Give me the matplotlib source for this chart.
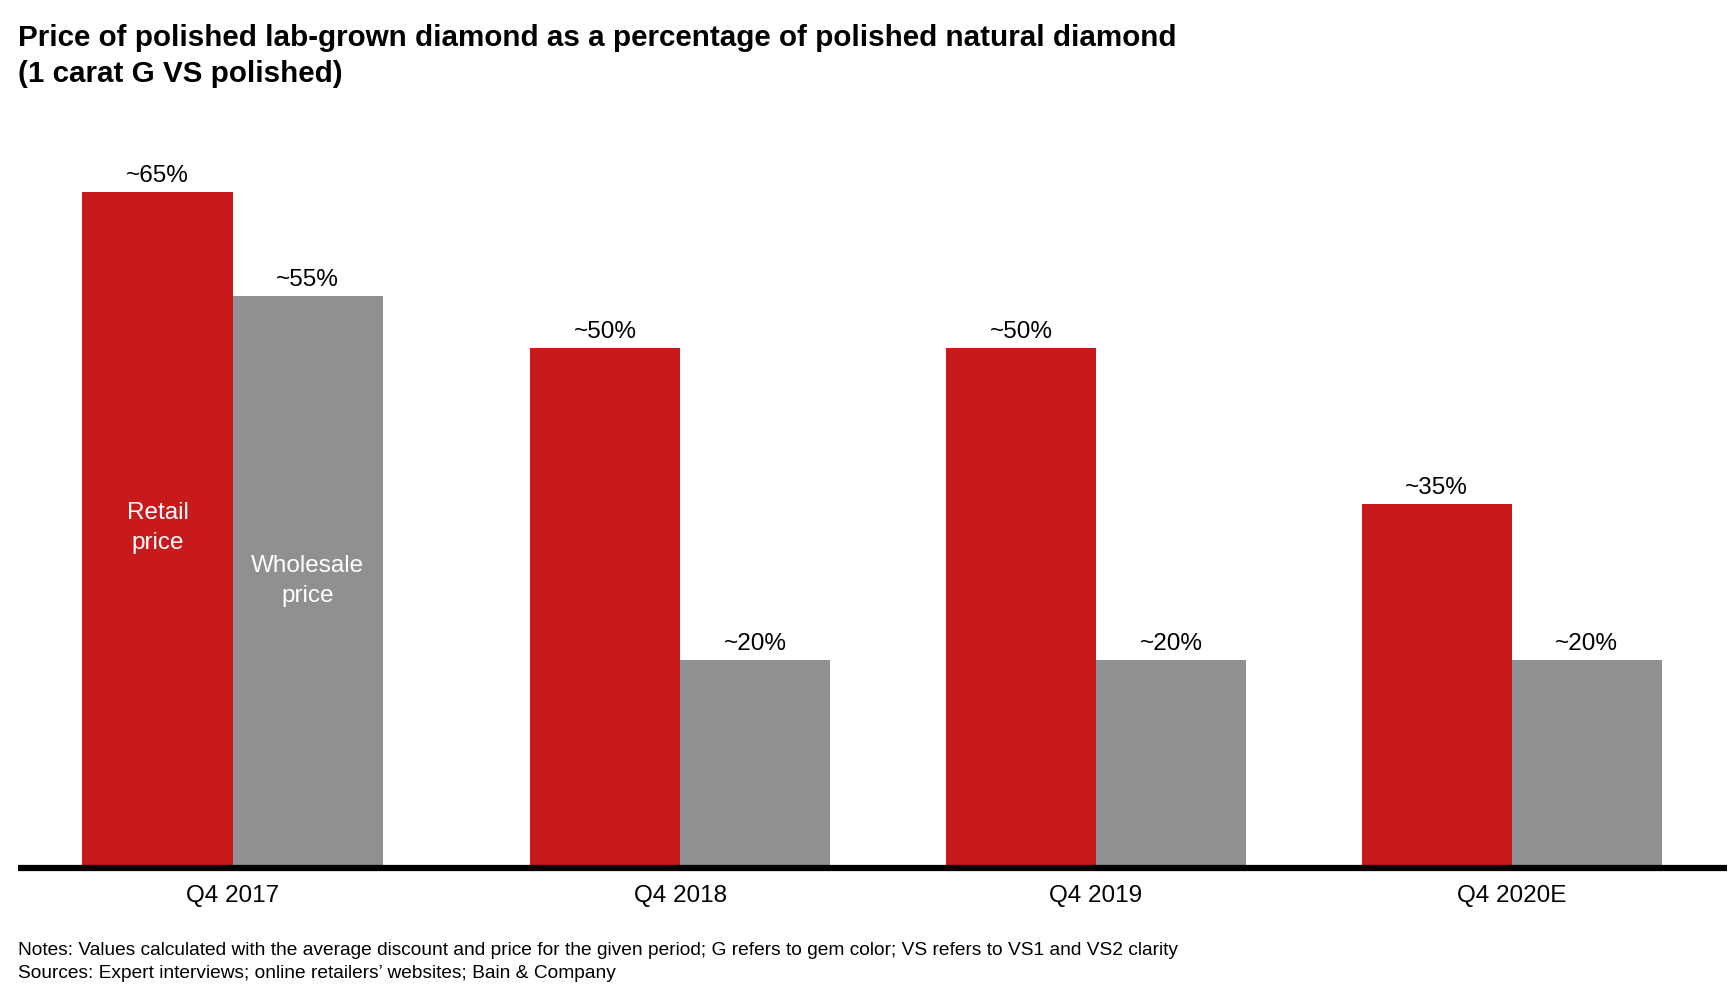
import matplotlib.pyplot as plt

plt.rcParams['font.family'] = ['Liberation Sans', 'DejaVu Sans']

categories = ["Q4 2017", "Q4 2018", "Q4 2019", "Q4 2020E"]
retail = [65, 50, 50, 35]
wholesale = [55, 20, 20, 20]
retail_labels = ["~65%", "~50%", "~50%", "~35%"]
wholesale_labels = ["~55%", "~20%", "~20%", "~20%"]

RED = "#C8191B"
GREY = "#8F9092"

fig = plt.figure(figsize=(17.29, 9.88), dpi=100)
W, H = 1729, 988
# axes spans x 18..1727 px, baseline at y 868 px
ax = fig.add_axes([18 / W, (H - 868) / H, (1727 - 18) / W, 728 / H])

# first group sits a bit further left than the even spacing
pos = [0, 1.077, 2.077, 3.077]
bw = 0.361

ax.bar([p - bw / 2 for p in pos], retail, width=bw, color=RED)
ax.bar([p + bw / 2 for p in pos], wholesale, width=bw, color=GREY)

for p, v, t in zip(pos, retail, retail_labels):
    ax.text(p - bw / 2, v + 0.5, t, ha="center", va="bottom", fontsize=17.5)
for p, v, t in zip(pos, wholesale, wholesale_labels):
    ax.text(p + bw / 2, v + 0.5, t, ha="center", va="bottom", fontsize=17.5)

ax.text(pos[0] - bw / 2, 32.7, "Retail\nprice", ha="center", va="center",
        color="white", fontsize=17.5, linespacing=1.45)
ax.text(pos[0] + bw / 2, 27.6, "Wholesale\nprice", ha="center", va="center",
        color="white", fontsize=17.5, linespacing=1.45)

ax.set_xlim(-0.516, 3.595)
ax.set_ylim(0, 70)
ax.set_xticks(pos)
ax.set_xticklabels(categories, fontsize=17.5)
ax.tick_params(axis="x", length=0, pad=12)
ax.set_yticks([])
for s in ["top", "right", "left"]:
    ax.spines[s].set_visible(False)
ax.spines["bottom"].set_linewidth(4.5)
ax.spines["bottom"].set_color("black")
ax.spines["bottom"].set_capstyle("butt")

fig.text(18 / W, 1 - 38 / H, "Price of polished lab-grown diamond as a percentage of polished natural diamond",
         fontsize=21.3, fontweight="bold", va="center")
fig.text(18 / W, 1 - 74 / H, "(1 carat G VS polished)",
         fontsize=21.3, fontweight="bold", va="center")

fig.text(18 / W, 1 - 950 / H, "Notes: Values calculated with the average discount and price for the given period; "
         "G refers to gem color; VS refers to VS1 and VS2 clarity", fontsize=13.75, va="center")
fig.text(18 / W, 1 - 973 / H, "Sources: Expert interviews; online retailers\u2019 websites; Bain & Company",
         fontsize=13.75, va="center")

fig.savefig("out.png", dpi=100)
